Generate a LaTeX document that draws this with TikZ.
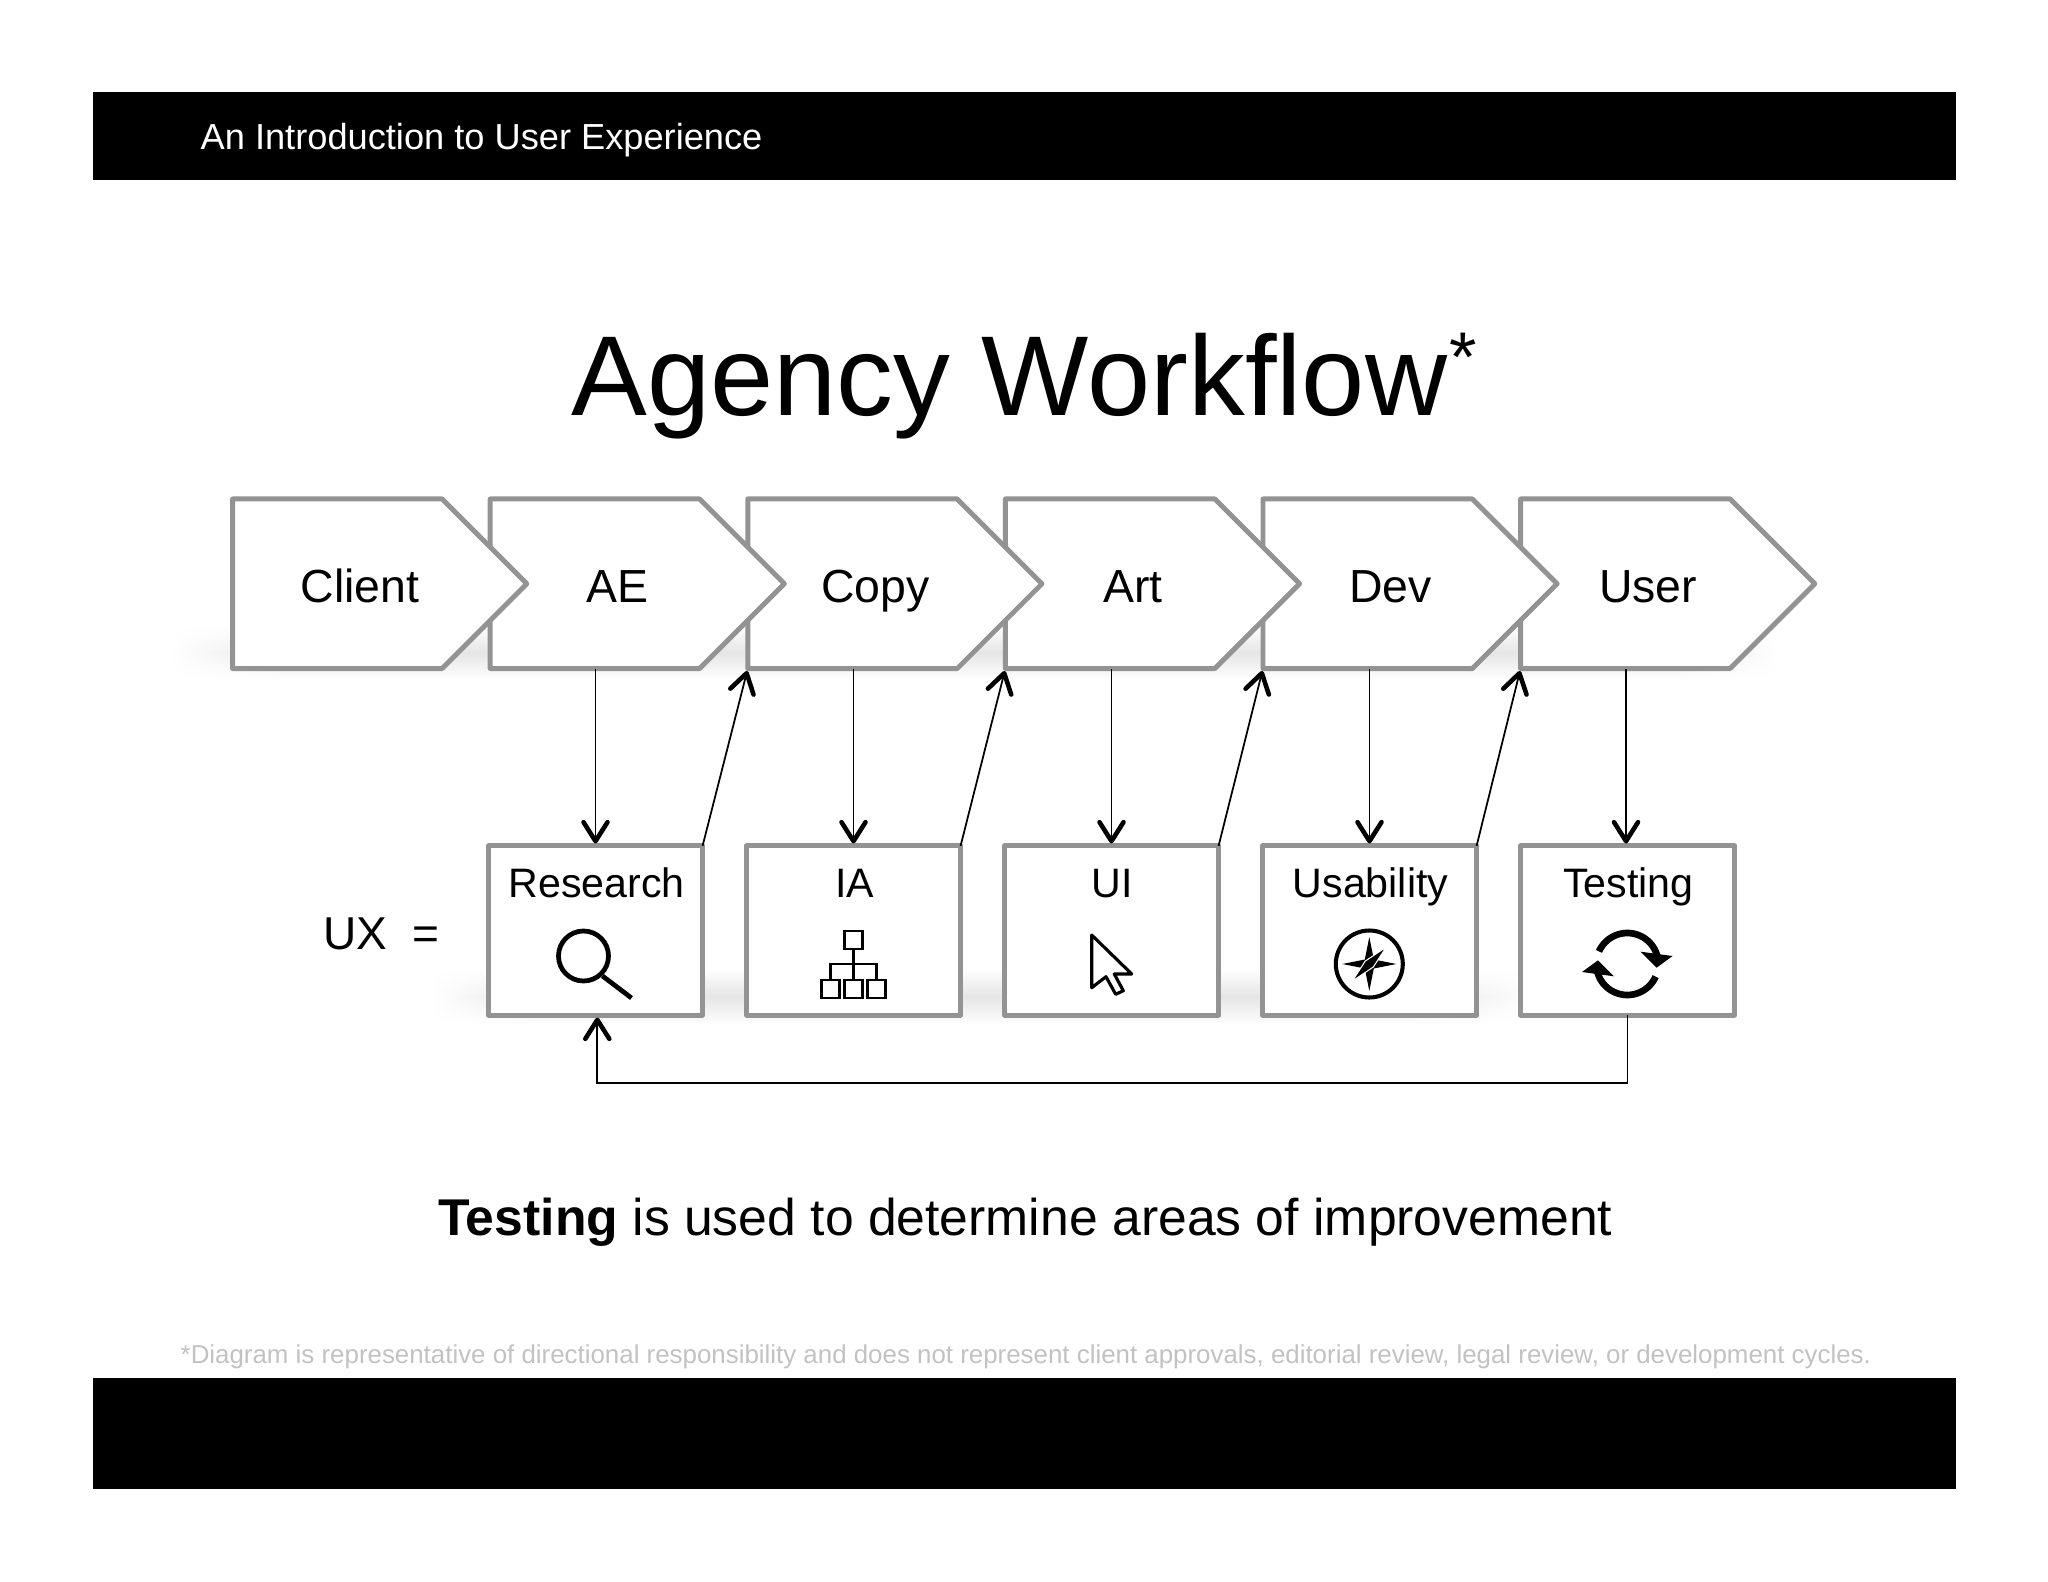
\documentclass[tikz,border=0pt]{standalone}
\usepackage{fontspec}
\setmainfont{Liberation Sans}
\usetikzlibrary{arrows.meta,shapes.symbols,fadings}

\definecolor{edgegray}{HTML}{939393}
\definecolor{notegray}{HTML}{C2C2C2}

\tikzset{
    stepbox/.style={signal,signal to=east,signal from=nowhere,signal pointer angle=90,
        draw=edgegray,fill=white,line width=1.4pt,line join=round,inner sep=0pt,outer sep=0pt,
        minimum width=2.94cm,minimum height=1.695cm,anchor=west},
    uxbox/.style={rectangle,draw=edgegray,fill=white,line width=1.4pt,line join=round,outer sep=0pt,
        minimum width=2.14cm,minimum height=1.69cm},
    steplabel/.style={anchor=base,inner sep=0pt,font=\fontsize{13.2pt}{16pt}\selectfont},
    uxlabel/.style={anchor=base,inner sep=0pt,font=\fontsize{11.7pt}{14pt}\selectfont},
    flow/.style={black,line width=0.5pt,shorten >=0.025cm,-{Straight Barb[length=0.19cm,width=0.24cm,line width=1.3pt,round]}},
    band/.style={top color=white,bottom color=white,middle color=black!10,draw=none},
    pics/lens/.style={
        code={
            \draw[line width=1.35pt] (-12,-8) circle[radius=25];
            \draw[line width=1.35pt] (7,12) -- (36,34);
        }
    },
    pics/sitemap/.style={
        code={
            \draw[line width=0.65pt] (-9,-33) rectangle +(18,18);
            \draw[line width=0.65pt] (-32,16) rectangle +(18,18);
            \draw[line width=0.65pt] (-9,16) rectangle +(18,18);
            \draw[line width=0.65pt] (14,16) rectangle +(18,18);
            \draw[line width=0.65pt] (0,-15) -- (0,16) (-23,16) -- (-23,0) -- (23,0) -- (23,16);
        }
    },
    pics/pointer/.style={
        code={
            \draw[line width=0.9pt,line join=round,fill=white] (-19.8,4.5) -- (-19.8,57.2) -- (-5.5,46.2)
                -- (4.2,63.8) -- (11.8,60.2) -- (2.8,43.5) -- (20.2,43.5) -- cycle;
        }
    },
    pics/compass/.style={
        code={
            \draw[line width=1.15pt] (0,0) circle[radius=33.5];
            \fill (0,-27) -- (4.5,-4.5) -- (27,0) -- (4.5,4.5) -- (0,27) -- (-4.5,4.5) -- (-27,0) -- (-4.5,-4.5) -- cycle;
            \filldraw[draw=white,line width=0.3pt] (17,-17) -- (4,3) -- (-17,17) -- (-4,-3) -- cycle;
        }
    },
    pics/refresh/.style={
        code={
            \foreach \turn in {0,180}{
                \begin{scope}[rotate=\turn]
                    \draw[line width=1.9pt] plot[smooth,samples=30,domain=156:15] ({31*cos(\x)},{-31*sin(\x)});
                    \fill (13.3,-12.3) -- (45.3,-8) -- (29.3,3.7) -- cycle;
                \end{scope}
            }
        }
    }
}

\begin{document}
\begin{tikzpicture}[x=0.01cm,y=-0.01cm]
    \useasboundingbox (0,0) rectangle (2048,1582);

    \fill[black] (93,92) rectangle (1956,180);
    \fill[black] (93,1378) rectangle (1956,1489);
    \node[anchor=base west,inner sep=0pt,text=white,font=\fontsize{10.3pt}{12pt}\selectfont] (header) at (200,150) {An Introduction to User Experience};

    \node[anchor=base west,inner sep=0pt,font=\fontsize{32.3pt}{38pt}\selectfont] (title) at (571,416) {Agency Workflow\hspace{0.6pt}\raisebox{0.3em}{\fontsize{20pt}{21pt}\selectfont *}};

    % soft shadows
    \shade[band,path fading=west] (170,625) rectangle (290,680);
    \shade[band] (290,625) rectangle (1670,680);
    \shade[band,path fading=east] (1670,625) rectangle (1780,680);
    \shade[band,path fading=west] (430,968) rectangle (540,1025);
    \shade[band] (540,968) rectangle (1400,1025);
    \shade[band,path fading=east] (1400,968) rectangle (1540,1025);

    \foreach \name/\lab/\xpos in {user/User/1520.6,dev/Dev/1263,art/Art/1005.4,copy/Copy/747.8,ae/AE/490.2,client/Client/232.6}{
        \node[stepbox] (\name) at (\xpos,583.75) {};
        \node[steplabel] (\name label) at ([xshift=1.275cm,yshift=-0.185cm]\name.west) {\lab};
    }

    \foreach \name/\lab/\xpos in {research/Research/595.5,ia/IA/853.5,ui/UI/1111.5,usability/Usability/1369.5,testing/Testing/1627.5}{
        \node[uxbox] (\name) at (\xpos,930.5) {};
        \node[uxlabel] (\name label) at ([xshift=0.01cm]\name.center |- 0,897) {\lab};
    }
    \node[anchor=base west,inner sep=0pt,font=\fontsize{13.1pt}{16pt}\selectfont] (ux) at (322.6,949.6) {UX\ \ =};

    \pic[shift={(595.5,964)}]{lens};
    \pic[shift={(853.5,964)}]{sitemap};
    \pic[shift={(1111.5,930.5)}]{pointer};
    \pic[shift={(1369.3,964)}]{compass};
    \pic[shift={(1627.3,964)}]{refresh};

    \draw[flow] (research.north |- ae.south) -- (research.north);
    \draw[flow] (ia.north |- copy.south) -- (ia.north);
    \draw[flow] (ui.north |- art.south) -- (ui.north);
    \draw[flow] (usability.north |- dev.south) -- (usability.north);
    \draw[flow] ([xshift=-0.015cm]testing.north |- user.south) -- ([xshift=-0.015cm]testing.north);

    \draw[flow] (research.north east) -- (copy.south west);
    \draw[flow] (ia.north east) -- (art.south west);
    \draw[flow] (ui.north east) -- (dev.south west);
    \draw[flow] (usability.north east) -- (user.south west);

    \draw[flow] (testing.south) -- ++(0,68) -| ([xshift=0.018cm]research.south);

    \node[anchor=base west,inner sep=0pt,font=\fontsize{14.7pt}{18pt}\selectfont] (summary) at (437.5,1235) {\textbf{Testing} is used to determine areas of improvement};
    \node[anchor=base west,inner sep=0pt,text=notegray,font=\fontsize{7.36pt}{9pt}\selectfont] (note) at (180,1363.5) {*Diagram is representative of directional responsibility and does not represent client approvals, editorial review, legal review, or development cycles.};
\end{tikzpicture}
\end{document}
